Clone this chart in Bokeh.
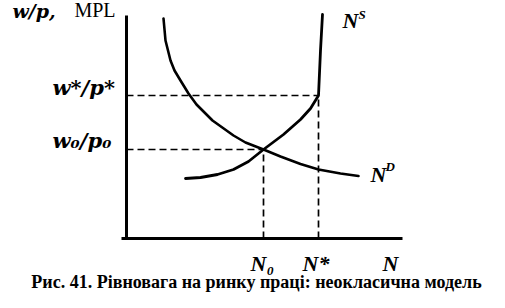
from bokeh.plotting import figure
from bokeh.models import Label, Range1d
from bokeh.core.properties import value
from bokeh.embed import file_html
from bokeh.resources import INLINE

# equilibrium values (N on x, real wage w/p on y)
N0, N_star = 13.7, 19.2
w0, w_star = 8.9, 14.3
x_axis_start, x_axis_end = -0.5, 27.6
y_axis_end = 22.3

# labour demand N^D (MPL)
nd_x = [3.7, 3.9, 4.4, 4.8, 5.4, 6.2, 7.0, 8.6, 10.7, 11.9, 13.7, 15.4, 17.4, 19.2, 21.4, 23.2]
nd_y = [22.0, 19.8, 17.8, 16.8, 15.8, 14.5, 13.4, 11.8, 10.3, 9.6, 8.9, 8.2, 7.45, 6.9, 6.5, 6.25]

# labour supply N^S
ns_x = [5.9, 7.4, 9.1, 10.7, 12.2, 13.7, 15.7, 17.4, 18.4, 19.2, 19.4, 19.6]
ns_y = [6.0, 6.1, 6.4, 6.9, 7.7, 8.9, 10.4, 11.9, 13.0, 14.3, 18.8, 22.4]

x_tick_labels = ["N\u2080", "N*", "N"]
y_tick_labels = ["w\u2080/p\u2080", "w*/p*"]
y_title = ["w/p,", "MPL"]
curve_labels = [("N", "S"), ("N", "D")]
caption = "Рис. 41. Рівновага на ринку праці: неокласична модель"

SERIF = "Liberation Serif"
WIDE = "DejaVu Serif"

p = figure(width=489, height=292, output_backend="svg", toolbar_location=None,
           x_range=Range1d(-12.6, 36.3), y_range=Range1d(-5.4, 23.8),
           x_axis_type=None, y_axis_type=None, min_border=0)
p.grid.visible = False
p.outline_line_color = None
p.background_fill_color = "white"

# axes
p.line([0, 0], [0, y_axis_end], line_color="black", line_width=3)
p.line([x_axis_start, x_axis_end], [0, 0], line_color="black", line_width=3)

# dashed guides
dash = dict(line_color="black", line_width=1.7, line_dash="7 4")
p.line([0, N_star], [w_star, w_star], **dash)
p.line([N_star, N_star], [0, w_star], **dash)
p.line([0, N0], [w0, w0], **dash)
p.line([N0, N0], [0, w0], **dash)

# curves
p.line(nd_x, nd_y, line_color="black", line_width=2.6, line_join="round", line_cap="round")
p.line(ns_x, ns_y, line_color="black", line_width=2.8, line_join="round", line_cap="round")

bi = dict(text_font_style="bold italic", text_color="black", text_baseline="alphabetic")

# x axis labels
p.text(x=[N0], y=[0], text=[x_tick_labels[0]], text_font=value(SERIF), text_font_size="22px",
       text_align="left", x_offset=-13, y_offset=25, **bi)
p.text(x=[N_star], y=[0], text=[x_tick_labels[1]], text_font=value(SERIF), text_font_size="22px",
       text_align="left", x_offset=-16, y_offset=25, **bi)
p.text(x=[x_axis_end], y=[0], text=[x_tick_labels[2]], text_font=value(SERIF), text_font_size="22px",
       text_align="right", x_offset=-4, y_offset=25, **bi)

# y axis labels
p.text(x=[0], y=[w0], text=[y_tick_labels[0]], text_font=value(WIDE), text_font_size="21px",
       text_align="left", x_offset=-74, y_offset=-9, **bi)
p.text(x=[0], y=[w_star], text=[y_tick_labels[1]], text_font=value(WIDE), text_font_size="21px",
       text_align="left", x_offset=-74, y_offset=-8, **bi)

# y axis title
p.text(x=[0], y=[y_axis_end], text=[y_title[0]], text_font=value(WIDE), text_font_size="19px",
       text_align="left", x_offset=-114, y_offset=-5, **bi)
p.text(x=[0], y=[y_axis_end], text=[y_title[1]], text_font=value(SERIF), text_font_size="20px",
       text_align="right", text_baseline="alphabetic", text_color="black", x_offset=-11, y_offset=-6)

# curve labels
p.text(x=[ns_x[-1]], y=[ns_y[-1]], text=[curve_labels[0][0]], text_font=value(SERIF),
       text_font_size="22px", text_align="left", x_offset=20, y_offset=6, **bi)
p.text(x=[ns_x[-1]], y=[ns_y[-1]], text=[curve_labels[0][1]], text_font=value(SERIF),
       text_font_size="13px", text_align="left", x_offset=36, y_offset=0, **bi)
p.text(x=[nd_x[-1]], y=[nd_y[-1]], text=[curve_labels[1][0]], text_font=value(SERIF),
       text_font_size="22px", text_align="left", x_offset=12, y_offset=-1.5, **bi)
p.text(x=[nd_x[-1]], y=[nd_y[-1]], text=[curve_labels[1][1]], text_font=value(SERIF),
       text_font_size="13px", text_align="left", x_offset=27, y_offset=-9.5, **bi)

# caption
p.add_layout(Label(x=256, y=10.5, x_units="screen", y_units="screen", text=caption,
                   text_font=SERIF, text_font_style="bold", text_font_size="18px",
                   text_align="center", text_baseline="middle", text_color="black"))

open("out.html", "w").write(file_html(p, INLINE))
